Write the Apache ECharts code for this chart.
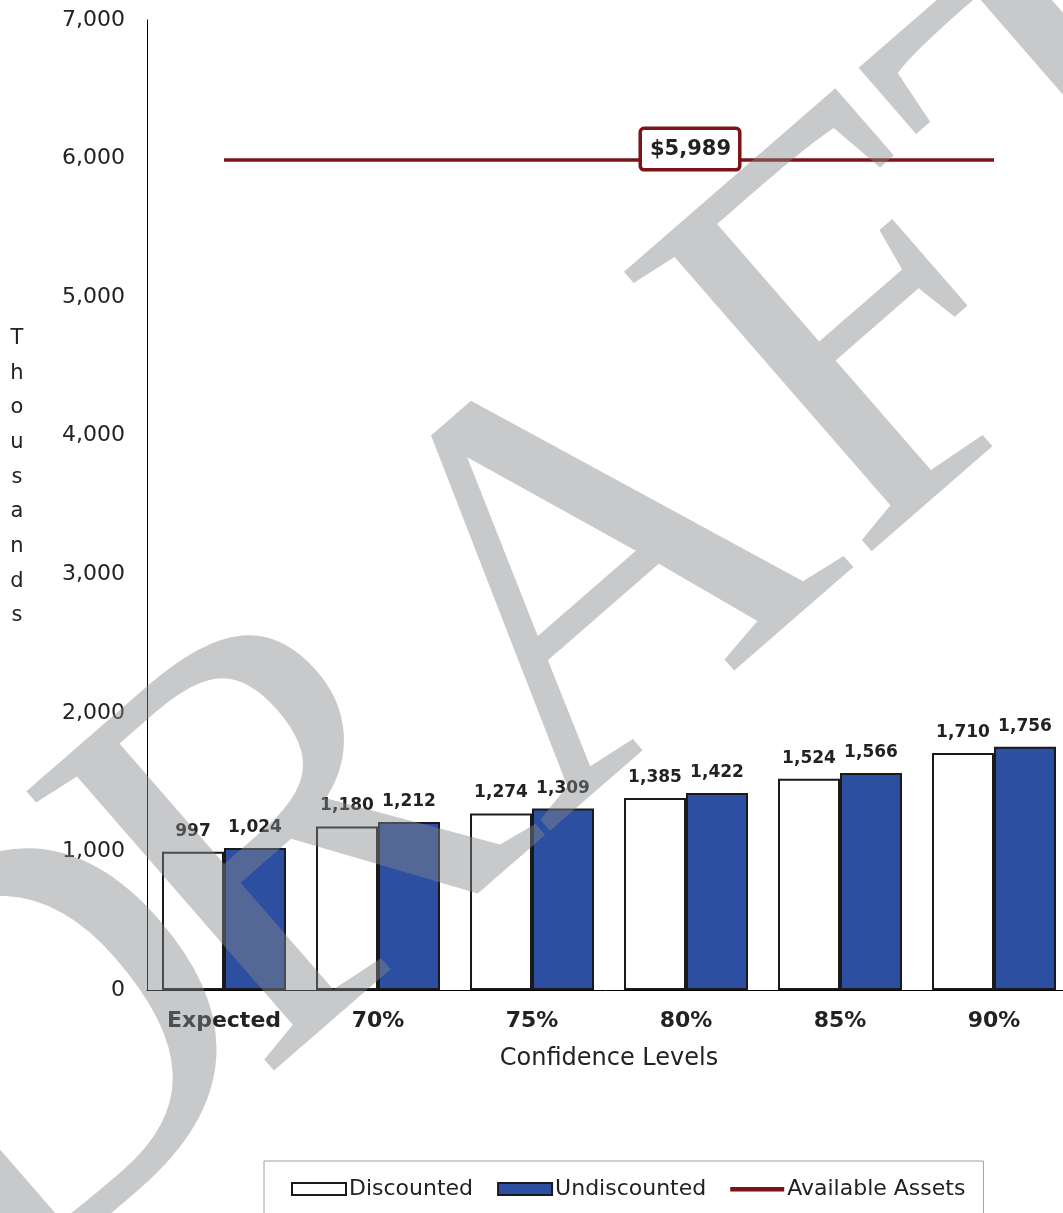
<!DOCTYPE html>
<html>
<head>
<meta charset="utf-8">
<script src="https://cdn.jsdelivr.net/npm/echarts@6/dist/echarts.min.js"></script>
<style>html,body{margin:0;padding:0;background:#fff}#c{width:1063px;height:1213px}</style>
</head>
<body>
<div id="c"></div>
<script>
const categories = ['Expected', '70%', '75%', '80%', '85%', '90%'];
const discounted = [997, 1180, 1274, 1385, 1524, 1710];
const undiscounted = [1024, 1212, 1309, 1422, 1566, 1756];
const availableAssets = [5989, 5989, 5989, 5989, 5989, 5989];
const assetLabelIndex = 3;
const yTicks = [0, 1000, 2000, 3000, 4000, 5000, 6000, 7000];

const fmt = v => Number(v).toLocaleString('en-US');
const FONT = 'DejaVu Sans';

// watermark placement (rotated text, local offsets along baseline)
const WM_ANGLE = 41 * Math.PI / 180;
const WM_CX = 555, WM_CY = 628;
const wmAt = lx => [WM_CX + lx * Math.cos(WM_ANGLE), WM_CY - lx * Math.sin(WM_ANGLE)];
const wmStyle = t => ({
  text: t, fill: 'rgba(133,135,140,0.45)', font: '570px "Liberation Serif"',
  textAlign: 'left', textVerticalAlign: 'middle'
});
const pD = wmAt(-879), pR = wmAt(-522.5);

const chart = echarts.init(document.getElementById('c'));
chart.setOption({
  animation: false,
  backgroundColor: '#fff',
  textStyle: { fontFamily: FONT },
  grid: { left: 147, top: 20, bottom: 223, width: 924, containLabel: false, outerBoundsMode: 'none' },
  graphic: [
    { type: 'text', z: 3, x: pD[0], y: pD[1], rotation: WM_ANGLE, silent: true, style: wmStyle('D') },
    { type: 'text', z: 3, x: pR[0], y: pR[1], rotation: WM_ANGLE, silent: true, style: wmStyle('RAFT') },
    {
      type: 'text', x: 17, y: 321,
      style: {
        text: 'Thousands'.split('').join('\n'), fill: '#222',
        font: '21px "DejaVu Sans"', textAlign: 'center', lineHeight: 34.7
      }
    }
  ],
  legend: {
    left: 264, top: 1161,
    padding: [17, 18, 30, 27],
    borderColor: '#a0a0a0', borderWidth: 1,
    itemWidth: 54, itemHeight: 12, itemGap: 24,
    textStyle: { fontFamily: FONT, fontSize: 22, color: '#222', padding: [0, 0, 0, -2] },
    data: [
      { name: 'Discounted', icon: 'rect' },
      { name: 'Undiscounted', icon: 'rect' },
      { name: 'Available Assets', icon: 'path://M0,0L54,0M0,12L54,12M0,4L54,4L54,8.5L0,8.5Z',
        itemStyle: { color: '#7b1416', borderWidth: 0 } }
    ]
  },
  xAxis: {
    type: 'category', data: categories,
    name: 'Confidence Levels', nameLocation: 'middle', nameGap: 57,
    nameTextStyle: { fontFamily: FONT, fontSize: 24, color: '#222' },
    axisLine: { lineStyle: { color: '#000', width: 1 } },
    axisTick: { show: false },
    axisLabel: { fontFamily: FONT, fontSize: 22, fontWeight: 'bold', color: '#222', margin: 20 }
  },
  yAxis: {
    type: 'value', min: 0, max: 7000, interval: 1000,
    axisLine: { show: true, lineStyle: { color: '#000', width: 1 } },
    axisTick: { show: false },
    splitLine: { show: false },
    axisLabel: { fontFamily: FONT, fontSize: 22, color: '#222', margin: 22, formatter: v => fmt(v) }
  },
  series: [
    {
      name: 'Discounted', type: 'bar', data: discounted,
      barGap: '0%', barCategoryGap: '19.5%',
      itemStyle: { color: '#ffffff', borderColor: '#1a1a1a', borderWidth: 2 },
      label: { show: true, position: 'top', distance: 12, fontFamily: FONT, fontSize: 17, fontWeight: 'bold', color: '#222', formatter: p => fmt(p.value) }
    },
    {
      name: 'Undiscounted', type: 'bar', data: undiscounted,
      itemStyle: { color: '#2d4fa1', borderColor: '#1a1a1a', borderWidth: 2 },
      label: { show: true, position: 'top', distance: 12, fontFamily: FONT, fontSize: 17, fontWeight: 'bold', color: '#222', formatter: p => fmt(p.value) }
    },
    {
      name: 'Available Assets', type: 'line', symbol: 'none', showSymbol: false,
      z: 2,
      lineStyle: { color: '#7b1416', width: 3.5 },
      itemStyle: { color: '#7b1416' },
      data: availableAssets,
      markPoint: {
        symbol: 'rect', symbolSize: 1,
        itemStyle: { color: 'rgba(0,0,0,0)' },
        data: [{
          coord: [assetLabelIndex, availableAssets[assetLabelIndex]],
          value: availableAssets[assetLabelIndex],
          label: {
            show: true, position: 'inside', offset: [4, -11],
            formatter: p => '$' + fmt(p.value),
            fontFamily: FONT, fontSize: 21, fontWeight: 'bold', color: '#222',
            backgroundColor: '#fff', borderColor: '#7b1416', borderWidth: 3.5,
            borderRadius: 2, padding: [9, 7, 8, 8]
          }
        }]
      }
    }
  ]
});
</script>
</body>
</html>
